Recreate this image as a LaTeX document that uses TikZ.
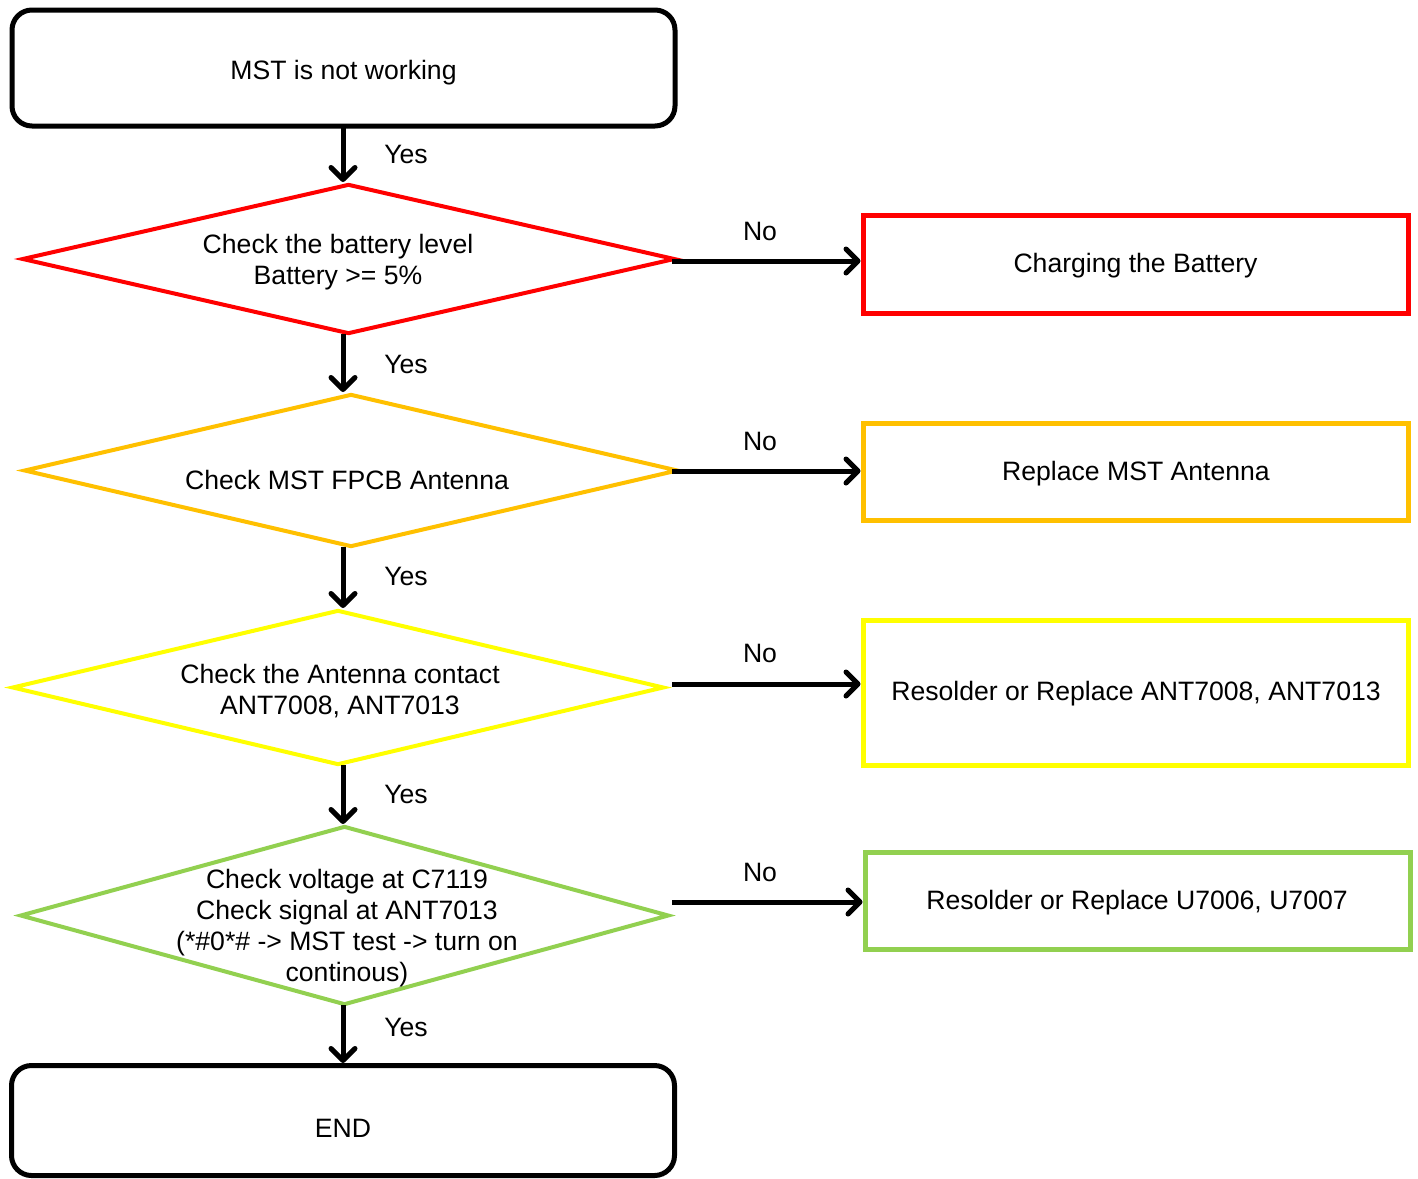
\documentclass[tikz,border=0pt]{standalone}
\usepackage{fontspec}
\setmainfont{Liberation Sans}
\usetikzlibrary{shapes.geometric,arrows.meta}
\definecolor{cred}{HTML}{FF0000}
\definecolor{corange}{HTML}{FFC000}
\definecolor{cyellow}{HTML}{FFFF00}
\definecolor{cgreen}{HTML}{92D050}
\begin{document}
\begin{tikzpicture}[x=0.5pt,y=-0.5pt,
  font=\fontsize{13.3}{15.4}\selectfont,
  termbox/.style={draw=black,line width=2.5pt,rounded corners=10pt,minimum width=331.5pt,minimum height=58pt,inner sep=0pt},
  decbox/.style={draw,shape=diamond,line width=2pt,inner sep=0pt,aspect=1},
  actbox/.style={draw,line width=2.5pt,minimum width=272.5pt,inner sep=0pt},
  txt/.style={align=center,inner sep=0pt},
  flow/.style={line width=2.5pt,-{Straight Barb[round,length=6pt,width=12pt]}},
  lbl/.style={inner sep=0pt}]
\useasboundingbox (0,0) rectangle (1418,1178);
\fill[white] (0,0) rectangle (1418,1178);

\node[termbox] (start) at (343.5,68) {};
\node[txt] (ts) at (343.5,73) {MST is not working};

\node[decbox,draw=cred,minimum width=326.5pt,minimum height=75pt] (d1) at (348.5,259) {};
\node[txt] (t1) at (338,262) {Check the battery level\\Battery >= 5\%};

\node[decbox,draw=corange,minimum width=327pt,minimum height=76.5pt] (d2) at (351,470.5) {};
\node[txt] (t2) at (347,480) {Check MST FPCB Antenna};

\node[decbox,draw=cyellow,minimum width=326pt,minimum height=77.5pt] (d3) at (338,687.5) {};
\node[txt] (t3) at (340,691) {Check the Antenna contact\\ANT7008, ANT7013};

\node[decbox,draw=cgreen,minimum width=324.5pt,minimum height=89.5pt] (d4) at (344.5,915.5) {};
\node[txt] (t4) at (347,928) {Check voltage at C7119\\Check signal at ANT7013\\(*\#0*\# -> MST test -> turn on\\continous)};

\node[termbox,minimum height=55pt] (end) at (343,1120.5) {};
\node[txt] (te) at (343,1128) {END};

\node[actbox,draw=cred,minimum height=49pt] (r1) at (1135.5,264) {};
\node[txt] (tr1) at (1135.5,266) {Charging the Battery};
\node[actbox,draw=corange,minimum height=48.5pt] (r2) at (1135.5,471.5) {};
\node[txt] (tr2) at (1136,474) {Replace MST Antenna};
\node[actbox,draw=cyellow,minimum height=72.5pt] (r3) at (1135.5,692.5) {};
\node[txt] (tr3) at (1136,694) {Resolder or Replace ANT7008, ANT7013};
\node[actbox,draw=cgreen,minimum height=48.5pt] (r4) at (1137.5,900.5) {};
\node[txt] (tr4) at (1137,903) {Resolder or Replace U7006, U7007};

\coordinate (a0) at (343,126);
\coordinate (a1) at (343,334);
\coordinate (a2) at (343,547);
\coordinate (a3) at (343,765);
\coordinate (a4) at (343,1005);

\draw[flow] (a0) -- (a0 |- d1.north);
\draw[flow] (a1) -- (a1 |- d2.north);
\draw[flow] (a2) -- (a2 |- d3.north);
\draw[flow] (a3) -- (a3 |- d4.north);
\draw[flow] (a4) -- (a4 |- end.north);

\coordinate (h1) at (672,261);
\coordinate (h2) at (672,471);
\coordinate (h3) at (672,684);
\coordinate (h4) at (672,902);
\draw[flow] (h1) -- (h1 -| r1.west);
\draw[flow] (h2) -- (h2 -| r2.west);
\draw[flow] (h3) -- (h3 -| r3.west);
\draw[flow] (h4) -- (h4 -| r4.west);

\node[lbl] (y1) at (406,154) {Yes};
\node[lbl] (y2) at (406,364) {Yes};
\node[lbl] (y3) at (406,576) {Yes};
\node[lbl] (y4) at (406,794) {Yes};
\node[lbl] (y5) at (406,1027) {Yes};
\node[lbl] (n1) at (760,231) {No};
\node[lbl] (n2) at (760,441) {No};
\node[lbl] (n3) at (760,653) {No};
\node[lbl] (n4) at (760,872) {No};
\end{tikzpicture}
\end{document}
